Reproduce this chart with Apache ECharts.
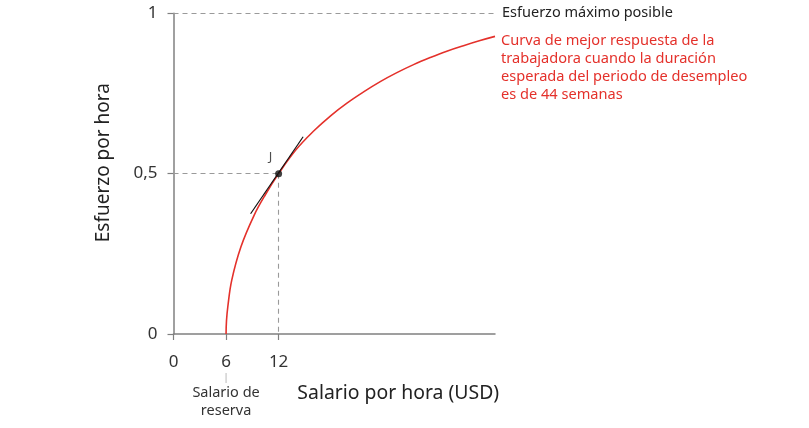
<!DOCTYPE html>
<html>
<head>
<meta charset="utf-8">
<script src="https://cdn.jsdelivr.net/npm/echarts@6/dist/echarts.min.js"></script>
<style>
html,body{margin:0;padding:0;background:#fff;}
#main{width:809px;height:428px;}
</style>
</head>
<body>
<div id="main"></div>
<script>
// Data
var curveX = [6, 6.05, 6.2, 6.65, 7.7, 9.2, 10.5, 12, 14, 16, 18, 19.8, 21.7, 23.6, 25.5, 27.4, 29.3, 31.2, 33.1, 35, 36.7];
var curveY = [0, 0.042, 0.085, 0.168, 0.272, 0.37, 0.435, 0.5, 0.575, 0.633, 0.682, 0.72, 0.755, 0.787, 0.815, 0.84, 0.862, 0.882, 0.899, 0.915, 0.928];
var tangentX = [8.8, 14.8];
var tangentY = [0.375, 0.615];
var pointJ = [12, 0.5];
var xTicks = [0, 6, 12];
var xMax = 36.7;
var maxEffort = 1;
var curveLabel = 'Curva de mejor respuesta de la\ntrabajadora cuando la duración\nesperada del periodo de desempleo\nes de 44 semanas';
var maxLabel = 'Esfuerzo máximo posible';
var reserveLabel = ['Salario de', 'reserva'];
var xName = 'Salario por hora (USD)';
var yName = 'Esfuerzo por hora';

var FONT = '"Noto Sans", "Open Sans", sans-serif';
var RED = '#e4312b';
var AXIS = '#808080';
var DASH = '#9a9a9a';

function zip(a, b) { return a.map(function (v, i) { return [v, b[i]]; }); }

var chart = echarts.init(document.getElementById('main'));
chart.setOption({
  animation: false,
  textStyle: { fontFamily: FONT },
  grid: { left: 173.5, right: 314, top: 13.3, bottom: 94, containLabel: false, outerBoundsMode: 'none' },
  xAxis: {
    type: 'value', min: 0, max: xMax,
    name: xName, nameLocation: 'middle', nameGap: 50, nameMoveOverlap: false,
    nameTextStyle: { fontSize: 19.4, color: '#222', fontFamily: FONT, padding: [0, 0, 0, 128] },
    axisLine: { show: true, lineStyle: { color: AXIS, width: 1.5 } },
    axisTick: { show: true, customValues: xTicks, length: 6, lineStyle: { color: AXIS, width: 1.2 } },
    axisLabel: {
      customValues: xTicks, margin: 18, color: '#333', fontSize: 17, lineHeight: 20, fontFamily: FONT,
      formatter: function (v) {
        if (v === 6) return '6\n{bar|}\n{sub|' + reserveLabel[0] + '}\n{sub|' + reserveLabel[1] + '}';
        return String(v);
      },
      rich: {
        bar: { width: 1, height: 10, lineHeight: 12, backgroundColor: '#bbbbbb' },
        sub: { fontSize: 14.5, lineHeight: 18, color: '#333', fontFamily: FONT }
      }
    },
    splitLine: { show: false }
  },
  yAxis: {
    type: 'value', min: 0, max: maxEffort, interval: 0.5,
    name: yName, nameLocation: 'middle', nameGap: 60, nameMoveOverlap: false,
    nameTextStyle: { fontSize: 19, color: '#222', fontFamily: FONT, padding: [0, 0, 0, 22] },
    axisLine: { show: true, lineStyle: { color: AXIS, width: 1.5 } },
    axisTick: { show: true, length: 6, lineStyle: { color: AXIS, width: 1.2 } },
    axisLabel: {
      margin: 16, color: '#333', fontSize: 17, fontFamily: FONT,
      formatter: function (v) { return String(v).replace('.', ','); }
    },
    splitLine: { show: false }
  },
  series: [
    {
      type: 'line', data: zip(curveX, curveY), smooth: 0.4, showSymbol: false,
      lineStyle: { color: RED, width: 1.6 }, z: 3,
      endLabel: {
        show: true, formatter: curveLabel, color: RED, fontSize: 14.6, lineHeight: 18,
        fontFamily: FONT, align: 'left', verticalAlign: 'top', offset: [-2, -5]
      },
      markLine: {
        symbol: 'none', silent: true,
        lineStyle: { color: DASH, type: [5, 4], width: 1.1 },
        label: { show: false },
        data: [
          [{ coord: [0, maxEffort] }, { coord: [xMax, maxEffort],
            label: { show: true, position: 'end', formatter: maxLabel, color: '#222', fontSize: 14.5, fontFamily: FONT, distance: 7 } }],
          [{ coord: [0, pointJ[1]] }, { coord: [pointJ[0], pointJ[1]] }],
          [{ coord: [pointJ[0], pointJ[1]] }, { coord: [pointJ[0], 0] }]
        ]
      }
    },
    {
      type: 'line', data: zip(tangentX, tangentY), showSymbol: false,
      lineStyle: { color: '#111', width: 1.2 }, z: 4
    },
    {
      type: 'scatter', data: [pointJ], symbolSize: 7, itemStyle: { color: '#111' }, z: 5,
      label: { show: true, formatter: 'J', position: 'inside', offset: [-8, -16], color: '#222', fontSize: 13, fontFamily: FONT }
    }
  ]
});
</script>
</body>
</html>
